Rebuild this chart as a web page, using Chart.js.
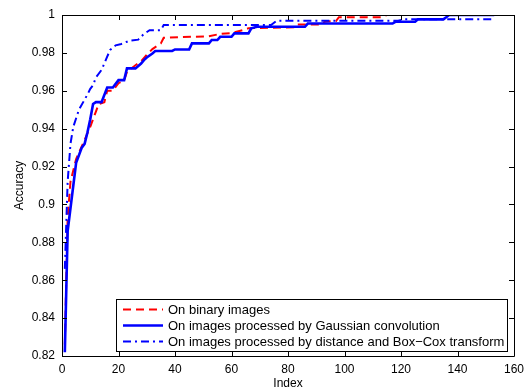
<!DOCTYPE html>
<html><head><meta charset="utf-8">
<script src="https://cdn.jsdelivr.net/npm/chart.js@4.4.0/dist/chart.umd.min.js"></script>
<style>html,body{margin:0;padding:0;background:#fff;}</style>
</head><body>
<canvas id="c" width="531" height="390" style="width:531px;height:390px;display:block"></canvas>
<script>
// ---- data ----
const seriesNames = [
  "On binary images",
  "On images processed by Gaussian convolution",
  "On images processed by distance and Box\u2212Cox transform"
];
const binaryX = [1,2,3,5,8,10,12,13,15,16,18,20,22,23,26,28,30,32,35,36,52,56,60,64,66,82,83,92,93,97,98,113,115,153];
const binaryY = [0.826,0.893,0.912,0.924,0.934,0.941,0.949,0.953,0.954,0.960,0.960,0.964,0.9656,0.970,0.9735,0.9755,0.979,0.982,0.985,0.988,0.9888,0.990,0.9905,0.992,0.993,0.9935,0.995,0.995,0.9965,0.9968,0.9988,0.9988,1.0,1.0];
const gaussX = [1,2,4,5,7,8,9,10,11,12,14,16,18,20,22,23,26,28,29,30,32,33,39,40,45,46,52,53,55,56,60,61,66,67,69,86,87,117,118,125,126,135,136,137,153];
const gaussY = [0.822,0.886,0.910,0.922,0.930,0.932,0.938,0.945,0.953,0.954,0.954,0.9617,0.9617,0.9656,0.9656,0.9718,0.9718,0.9744,0.9762,0.9776,0.9797,0.981,0.981,0.9818,0.9818,0.985,0.985,0.9868,0.9868,0.9885,0.9885,0.9903,0.9903,0.993,0.9938,0.9938,0.9955,0.9955,0.9964,0.9964,0.9977,0.9977,0.9988,1.0,1.0];
const boxcoxX = [1,2,3,4,6,9,10,11,12,14,16,17,19,21,24,27,29,31,35,36,74,76,119,121,153];
const boxcoxY = [0.866,0.912,0.932,0.941,0.950,0.958,0.961,0.963,0.967,0.971,0.978,0.9815,0.984,0.9847,0.9865,0.987,0.990,0.992,0.992,0.9947,0.9947,0.997,0.997,0.9977,0.9977];
const xTickValues = [0,20,40,60,80,100,120,140,160];
const yTickValues = [0.82,0.84,0.86,0.88,0.9,0.92,0.94,0.96,0.98,1];

const pts = (xs, ys) => xs.map((x, i) => ({x: x, y: ys[i]}));
const FONT = "'Liberation Sans', Arial, Helvetica, sans-serif";

const framePlugin = {
  id: 'frame',
  afterDatasetsDraw(chart) {
    const {ctx, chartArea: a, scales: {x, y}} = chart;
    ctx.save();
    ctx.strokeStyle = '#000';
    ctx.lineWidth = 1;
    ctx.beginPath();
    ctx.rect(Math.round(a.left) + 0.5, Math.round(a.top) + 0.5, Math.round(a.right - a.left), Math.round(a.bottom - a.top));
    ctx.stroke();
    const L = 5;
    ctx.beginPath();
    xTickValues.forEach(v => {
      const px = Math.round(x.getPixelForValue(v)) + 0.5;
      ctx.moveTo(px, a.bottom); ctx.lineTo(px, a.bottom - L);
      ctx.moveTo(px, a.top); ctx.lineTo(px, a.top + L);
    });
    yTickValues.forEach(v => {
      const py = Math.round(y.getPixelForValue(v)) + 0.5;
      ctx.moveTo(a.left, py); ctx.lineTo(a.left + L, py);
      ctx.moveTo(a.right, py); ctx.lineTo(a.right - L, py);
    });
    ctx.stroke();

    // legend
    const bx = 116.5, by = 299.5, bw = 391, bh = 52;
    ctx.fillStyle = '#fff';
    ctx.fillRect(bx, by, bw, bh);
    ctx.strokeStyle = '#000';
    ctx.lineWidth = 1;
    ctx.strokeRect(bx, by, bw, bh);
    const rows = [309.5, 325.5, 341.5];
    chart.data.datasets.forEach((ds, i) => {
      ctx.save();
      ctx.strokeStyle = ds.borderColor;
      ctx.lineWidth = ds.borderWidth;
      ctx.setLineDash(ds.borderDash || []);
      ctx.beginPath();
      ctx.moveTo(123, rows[i]); ctx.lineTo(163, rows[i]);
      ctx.stroke();
      ctx.restore();
      ctx.fillStyle = '#000';
      ctx.font = '13px ' + FONT;
      ctx.textBaseline = 'middle';
      ctx.textAlign = 'left';
      ctx.fillText(ds.label, 168, rows[i] + 0.5);
    });
    ctx.restore();
  }
};

new Chart(document.getElementById('c'), {
  type: 'line',
  data: {
    datasets: [
      {label: seriesNames[0], data: pts(binaryX, binaryY), borderColor: '#ff0000', borderWidth: 2, borderDash: [8,5], order: 2},
      {label: seriesNames[1], data: pts(gaussX, gaussY), borderColor: '#0000ff', borderWidth: 2.6, borderDash: [], order: 1},
      {label: seriesNames[2], data: pts(boxcoxX, boxcoxY), borderColor: '#0000ff', borderWidth: 2, borderDash: [8,4,2,4], order: 0}
    ]
  },
  options: {
    responsive: false,
    animation: false,
    devicePixelRatio: 1,
    elements: {point: {radius: 0}, line: {tension: 0, fill: false}},
    layout: {padding: {top: 15, right: 17, left: 0, bottom: 0}},
    plugins: {legend: {display: false}, tooltip: {enabled: false}},
    scales: {
      x: {
        type: 'linear', min: 0, max: 160,
        afterBuildTicks: s => { s.ticks = xTickValues.map(v => ({value: v})); },
        afterFit: s => { s.height = 34; },
        grid: {display: false, drawTicks: false},
        border: {display: false},
        ticks: {color: '#000', font: {family: FONT, size: 12}, padding: 6, maxRotation: 0, autoSkip: false},
        title: {display: true, text: 'Index', color: '#000', font: {family: FONT, size: 12}, padding: {top: 0, bottom: -1}}
      },
      y: {
        type: 'linear', min: 0.82, max: 1,
        afterBuildTicks: s => { s.ticks = yTickValues.map(v => ({value: v})); },
        afterFit: s => { s.width = 62; },
        grid: {display: false, drawTicks: false},
        border: {display: false},
        ticks: {color: '#000', font: {family: FONT, size: 12}, padding: 7, autoSkip: false,
          callback: v => String(Math.round(v * 100) / 100)},
        title: {display: true, text: 'Accuracy', color: '#000', font: {family: FONT, size: 12}, padding: {top: 12, bottom: 0}}
      }
    }
  },
  plugins: [framePlugin]
});
</script>
</body></html>
